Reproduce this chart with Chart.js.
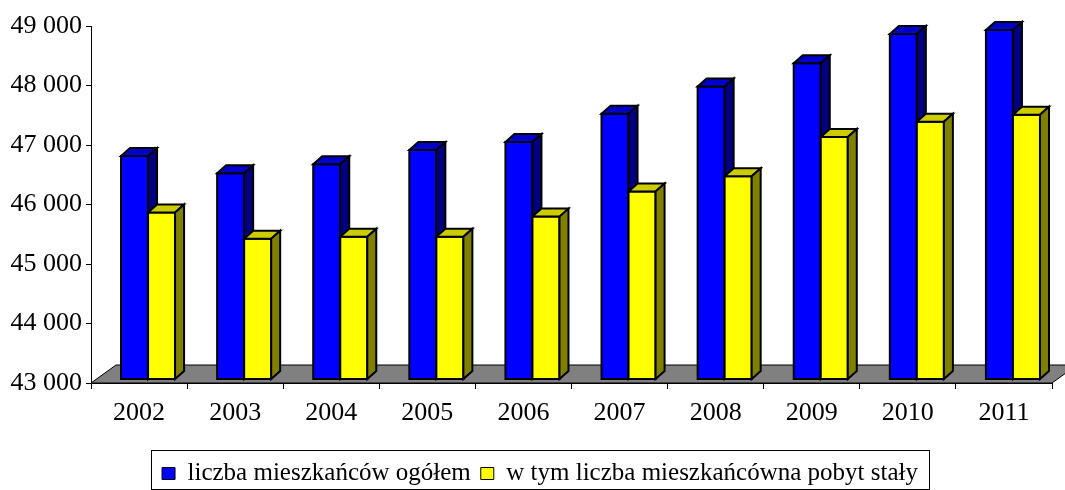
<!DOCTYPE html>
<html>
<head>
<meta charset="utf-8">
<script src="https://cdn.jsdelivr.net/npm/chart.js@4"></script>
<style>
  html, body { margin: 0; padding: 0; background: #fff; }
  #wrap { width: 1065px; height: 490px; }
</style>
</head>
<body>
<div id="wrap"><canvas id="popChart" width="1065" height="490"></canvas></div>
<script>
// data
const years = ["2002", "2003", "2004", "2005", "2006", "2007", "2008", "2009", "2010", "2011"];
const totalResidents = [46746, 46458, 46610, 46847, 46983, 47458, 47915, 48305, 48797, 48864];
const permanentResidents = [45797, 45356, 45390, 45390, 45729, 46153, 46407, 47068, 47322, 47441];
const seriesNames = ["liczba mieszkańców ogółem", "w tym liczba mieszkańcówna pobyt stały"];
const yMin = 43000, yMax = 49000, yStep = 1000;

// 3D look: depth offsets of the bars and the floor
const DEPTH_X = 9, DEPTH_Y = -8;
const SHIFT_X = 9, SHIFT_Y = -4;
const FLOOR_X = 25, FLOOR_Y = -18;
const SERIF = "'Liberation Serif', 'Times New Roman', serif";

const faceColors = [
  { front: "#0000ff", top: "#0000cc", side: "#000080" },
  { front: "#ffff00", top: "#cccc00", side: "#808000" }
];

function fmt(v) {
  return String(v).replace(/\B(?=(\d{3})+(?!\d))/g, " ");
}

function poly(ctx, pts, fill) {
  ctx.beginPath();
  ctx.moveTo(pts[0][0], pts[0][1]);
  for (let i = 1; i < pts.length; i++) ctx.lineTo(pts[i][0], pts[i][1]);
  ctx.closePath();
  ctx.fillStyle = fill;
  ctx.fill();
  ctx.stroke();
}

// draws the floor and the boxes ourselves, from the bar elements
const bars3d = {
  id: "bars3d",
  beforeDatasetsDraw(chart) {
    const ctx = chart.ctx;
    const a = chart.chartArea;
    const yScale = chart.scales.y;
    ctx.save();
    ctx.lineJoin = "miter";

    // floor
    ctx.strokeStyle = "#000";
    ctx.lineWidth = 1;
    poly(ctx, [
      [a.left, a.bottom],
      [a.left + FLOOR_X, a.bottom + FLOOR_Y],
      [a.right + FLOOR_X, a.bottom + FLOOR_Y],
      [a.right, a.bottom]
    ], "#808080");

    // bars, category by category so the yellow covers the blue side
    ctx.lineWidth = 2;
    const floorY = yScale.getPixelForValue(yMin) + SHIFT_Y;
    const metas = chart.data.datasets.map((_, i) => chart.getDatasetMeta(i));
    for (let j = 0; j < years.length; j++) {
      metas.forEach((meta, d) => {
        const el = meta.data[j];
        if (!el) return;
        const p = el.getProps(["x", "y", "width"], true);
        const l = p.x - p.width / 2 + SHIFT_X;
        const r = p.x + p.width / 2 + SHIFT_X;
        const t = p.y + SHIFT_Y;
        const b = floorY;
        const c = faceColors[d];
        poly(ctx, [[l, t], [r, t], [r, b], [l, b]], c.front);
        poly(ctx, [[l, t], [l + DEPTH_X, t + DEPTH_Y], [r + DEPTH_X, t + DEPTH_Y], [r, t]], c.top);
        poly(ctx, [[r, t], [r + DEPTH_X, t + DEPTH_Y], [r + DEPTH_X, b + DEPTH_Y], [r, b]], c.side);
      });
    }
    ctx.restore();
    return false;
  }
};

// frame around the legend items, legend nudged a bit to the right
const legendFrame = {
  id: "legendFrame",
  afterLayout(chart) {
    if (chart.legend) chart.legend.left += 28;
  },
  afterDraw(chart) {
    const boxes = chart.legend && chart.legend.legendHitBoxes;
    if (!boxes || !boxes.length) return;
    const first = boxes[0], last = boxes[boxes.length - 1];
    const ctx = chart.ctx;
    ctx.save();
    ctx.strokeStyle = "#000";
    ctx.lineWidth = 1;
    const x0 = Math.round(first.left - 11), x1 = Math.round(last.left + last.width + 11);
    const y0 = 450, y1 = chart.height - 1;
    ctx.strokeRect(x0 + 0.5, y0 + 0.5, x1 - x0, y1 - y0);
    ctx.restore();
  }
};

const ctx = document.getElementById("popChart").getContext("2d");
new Chart(ctx, {
  type: "bar",
  data: {
    labels: years,
    datasets: [
      {
        label: seriesNames[0],
        data: totalResidents,
        backgroundColor: faceColors[0].front,
        borderColor: "#000",
        borderWidth: 1
      },
      {
        label: seriesNames[1],
        data: permanentResidents,
        backgroundColor: faceColors[1].front,
        borderColor: "#000",
        borderWidth: 1
      }
    ]
  },
  options: {
    responsive: false,
    animation: false,
    layout: { padding: { top: 26, right: 13, left: 0, bottom: -6 } },
    datasets: {
      bar: { categoryPercentage: 0.5625, barPercentage: 1, base: yMin }
    },
    scales: {
      x: {
        grid: { drawOnChartArea: false, tickLength: 6, color: "#000", offset: true },
        border: { display: true, color: "#000", width: 1 },
        ticks: {
          color: "#000",
          padding: 9,
          font: { family: SERIF, size: 26 }
        },
        afterFit(scale) { scale.height = 68; }
      },
      y: {
        min: yMin,
        max: yMax,
        grid: { drawOnChartArea: false, tickLength: 5, color: "#000" },
        border: { display: true, color: "#000", width: 1 },
        ticks: {
          stepSize: yStep,
          color: "#000",
          padding: 4,
          font: { family: SERIF, size: 26 },
          callback: (v) => fmt(v)
        },
        afterFit(scale) { scale.width = 91; }
      }
    },
    plugins: {
      tooltip: { enabled: false },
      legend: {
        position: "bottom",
        labels: {
          color: "#000",
          boxWidth: 13,
          boxHeight: 12,
          padding: 10,
          font: { family: SERIF, size: 25 }
        }
      }
    }
  },
  plugins: [bars3d, legendFrame]
});
</script>
</body>
</html>
